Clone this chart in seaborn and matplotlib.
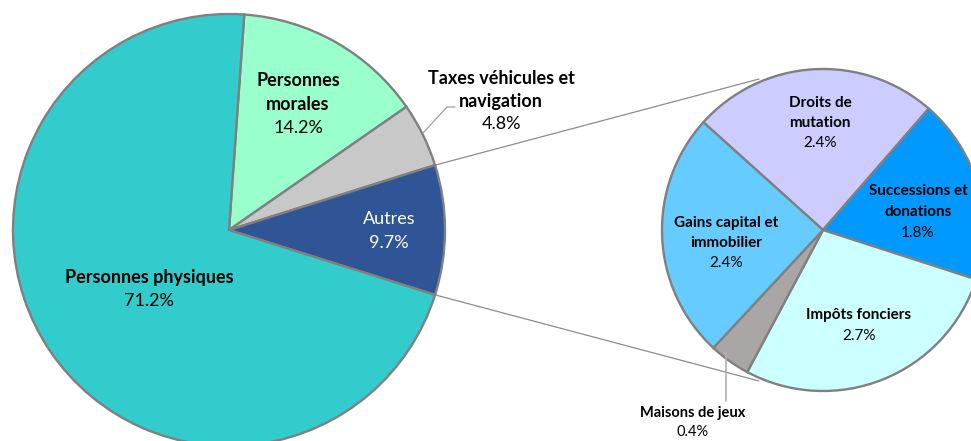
import numpy as np
import matplotlib
matplotlib.use("Agg")
import matplotlib.pyplot as plt
import seaborn as sns

# ---- data ----
main_labels = ["Personnes\nmorales", "Taxes véhicules et\nnavigation", "Autres", "Personnes physiques"]
main_values = [14.2, 4.8, 9.7, 71.2]
main_colors = ["#99FFCC", "#C8C8C8", "#2F5597", "#33CCCC"]

sub_labels = ["Droits de\nmutation", "Successions et\ndonations", "Impôts fonciers",
              "Maisons de jeux", "Gains capital et\nimmobilier"]
sub_values = [2.4, 1.8, 2.7, 0.4, 2.4]
sub_colors = ["#CCCCFF", "#0099FF", "#CCFFFF", "#AAA6A6", "#66CCFF"]

sns.set_theme(style="white")
plt.rcParams['font.family'] = ['Lato', 'DejaVu Sans']

W, H = 971, 441
fig = plt.figure(figsize=(W / 100, H / 100), dpi=100)
ax = fig.add_axes([0, 0, 1, 1])

def P(x, y):
    return (x, H - y)

mc = P(229, 230)
mr = 216
sc = P(823, 230)
sr = 161

# main pie: "Autres" centred on horizontal axis
total = sum(main_values)
before = sum(main_values[:2]) + main_values[2] / 2
start_main = before / total * 360.0
edge = dict(edgecolor="#808080", linewidth=1.7)
ax.pie(main_values, colors=main_colors, startangle=start_main, counterclock=False,
       center=mc, radius=mr, wedgeprops=edge, frame=True)
ax.pie(sub_values, colors=sub_colors, startangle=138, counterclock=False,
       center=sc, radius=sr, wedgeprops=edge, frame=True)

# connector lines from "Autres" slice to secondary pie
half = main_values[2] / total * 180.0
for sgn in (1, -1):
    a = np.deg2rad(sgn * half)
    b = np.deg2rad(sgn * 113)
    x0, y0 = mc[0] + mr * np.cos(a), mc[1] + mr * np.sin(a)
    x1, y1 = sc[0] + 164 * np.cos(b), sc[1] + 164 * np.sin(b)
    ax.plot([x0, x1], [y0, y1], color="#8C8C8C", lw=0.9, zorder=0.5)

# leader lines
ax.plot([423, 447, 455], [H - 133, H - 107, H - 107], color="#A0A0A0", lw=0.9)
ax.plot([726, 726], [H - 352, H - 401], color="#B0B0B0", lw=1.2)

def lab(x, y, name, val, size, color="black", weight="bold", gap=24):
    lines = name.split("\n")
    n = len(lines)
    for i, ln in enumerate(lines):
        ax.text(x, H - (y + i * gap), ln, ha="center", va="center",
                fontsize=size, fontweight=weight, color=color)
    ax.text(x, H - (y + n * gap), f"{val}%", ha="center", va="center",
            fontsize=size, color=color)

# main labels
lab(298, 80, main_labels[0], main_values[0], 13)
lab(501, 78, main_labels[1], main_values[1], 13, gap=23)
lab(389, 219, main_labels[2], main_values[2], 13, color="white", weight="normal")
lab(149, 277, main_labels[3], main_values[3], 13)

# secondary labels
lab(820, 103, sub_labels[0], sub_values[0], 11, gap=20)
lab(918, 191, sub_labels[1], sub_values[1], 11, gap=21)
lab(859, 315, sub_labels[2], sub_values[2], 11, gap=21)
lab(693, 413, sub_labels[3], sub_values[3], 10.5, gap=19)
lab(726, 223, sub_labels[4], sub_values[4], 11, gap=20)

ax.set_xlim(0, W)
ax.set_ylim(0, H)
ax.set_aspect("equal")
ax.axis("off")
fig.savefig("out.png", dpi=100)
